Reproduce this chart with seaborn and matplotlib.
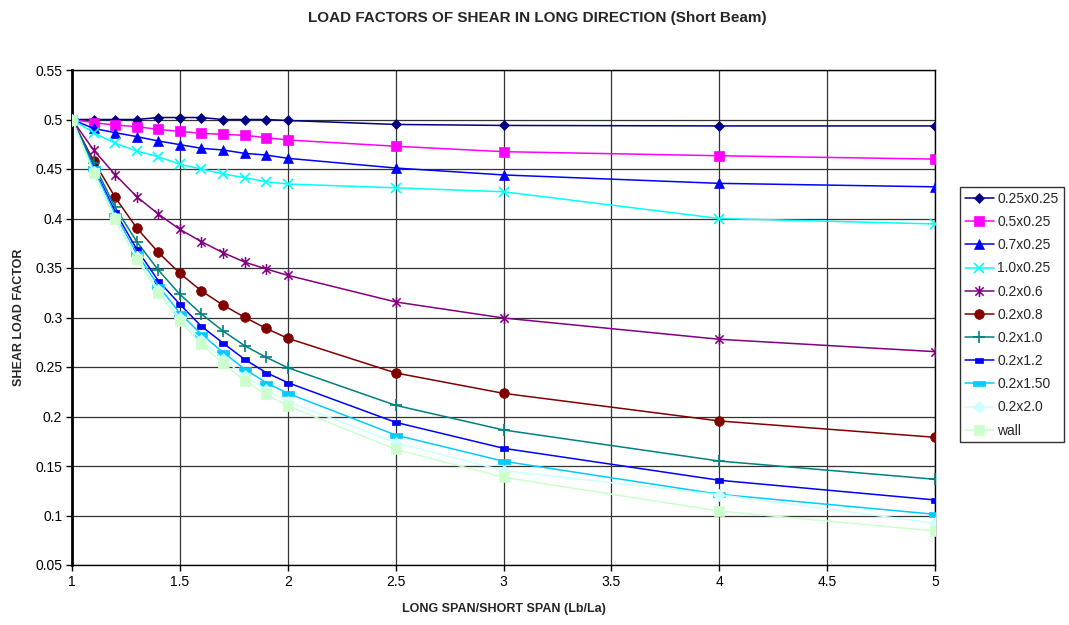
import matplotlib
matplotlib.use("Agg")
import matplotlib.pyplot as plt
from matplotlib.path import Path
import seaborn as sns
import numpy as np
import pandas as pd

x_vals = [1, 1.1, 1.2, 1.3, 1.4, 1.5, 1.6, 1.7, 1.8, 1.9, 2, 2.5, 3, 4, 5]

s_025x025 = [0.5, 0.5, 0.5, 0.5, 0.502, 0.502, 0.502, 0.5, 0.5, 0.5, 0.499, 0.495, 0.494, 0.4935, 0.4935]
s_05x025 = [0.5, 0.4968, 0.4944, 0.4928, 0.490, 0.488, 0.486, 0.485, 0.484, 0.4817, 0.4793, 0.473, 0.4675, 0.4634, 0.460]
s_07x025 = [0.5, 0.491, 0.4867, 0.4827, 0.4783, 0.4746, 0.4709, 0.4692, 0.4658, 0.4641, 0.4608, 0.451, 0.444, 0.4355, 0.432]
s_10x025 = [0.5, 0.4867, 0.476, 0.4682, 0.4624, 0.4547, 0.450, 0.445, 0.4412, 0.4372, 0.4348, 0.431, 0.427, 0.400, 0.3945]
s_02x06 = [0.5, 0.4692, 0.4443, 0.422, 0.4045, 0.389, 0.3766, 0.3655, 0.356, 0.349, 0.3426, 0.3157, 0.2995, 0.278, 0.2655]
s_02x08 = [0.5, 0.4584, 0.4214, 0.3904, 0.3658, 0.3446, 0.3268, 0.3126, 0.3002, 0.289, 0.279, 0.244, 0.2234, 0.1955, 0.179]
s_02x10 = [0.5, 0.4557, 0.4113, 0.3766, 0.348, 0.3234, 0.3035, 0.2864, 0.2715, 0.2598, 0.2493, 0.2113, 0.1864, 0.155, 0.1366]
s_02x12 = [0.5, 0.452, 0.407, 0.369, 0.3372, 0.3133, 0.2911, 0.2742, 0.2577, 0.2443, 0.2342, 0.1941, 0.1679, 0.1356, 0.1157]
s_02x150 = [0.5, 0.4507, 0.4035, 0.3648, 0.3322, 0.3042, 0.283, 0.2648, 0.248, 0.2342, 0.2234, 0.1813, 0.1548, 0.1214, 0.1012]
s_02x20 = [0.5, 0.447, 0.401, 0.361, 0.328, 0.2995, 0.277, 0.258, 0.241, 0.227, 0.215, 0.1736, 0.1453, 0.121, 0.0922]
s_wall = [0.5, 0.4457, 0.399, 0.3588, 0.3251, 0.2965, 0.2729, 0.2537, 0.2363, 0.2224, 0.2106, 0.1669, 0.1386, 0.1045, 0.0843]

labels = ["0.25x0.25", "0.5x0.25", "0.7x0.25", "1.0x0.25", "0.2x0.6", "0.2x0.8",
          "0.2x1.0", "0.2x1.2", "0.2x1.50", "0.2x2.0", "wall"]
series = [s_025x025, s_05x025, s_07x025, s_10x025, s_02x06, s_02x08,
          s_02x10, s_02x12, s_02x150, s_02x20, s_wall]

sns.set_theme(style="white")
plt.rcParams['font.family'] = ['Liberation Sans', 'DejaVu Sans']

# custom markers
star_path = Path([(0, 1), (0, -1), (-0.75, 0.75), (0.75, -0.75), (-0.75, -0.75), (0.75, 0.75)],
                 [Path.MOVETO, Path.LINETO, Path.MOVETO, Path.LINETO, Path.MOVETO, Path.LINETO])
bar_small = Path([(-1, -0.6), (1, -0.6), (1, 0.6), (-1, 0.6), (-1, -0.6)],
                 [Path.MOVETO, Path.LINETO, Path.LINETO, Path.LINETO, Path.CLOSEPOLY])
bar_wide = Path([(-1, -0.4), (1, -0.4), (1, 0.4), (-1, 0.4), (-1, -0.4)],
                [Path.MOVETO, Path.LINETO, Path.LINETO, Path.LINETO, Path.CLOSEPOLY])

styles = [
    dict(color="#000080", marker="D", ms=5),
    dict(color="#FF00FF", marker="s", ms=7),
    dict(color="#0000FF", marker="^", ms=7),
    dict(color="#00FFFF", marker="x", ms=6.5, mew=1.2),
    dict(color="#800080", marker=star_path, ms=8, mew=1.1),
    dict(color="#800000", marker="o", ms=7),
    dict(color="#008080", marker="+", ms=8, mew=1.2),
    dict(color="#0000FF", marker=bar_small, ms=6),
    dict(color="#00CCFF", marker=bar_wide, ms=9),
    dict(color="#CCFFFF", marker="D", ms=6),
    dict(color="#CCFFCC", marker="s", ms=7.5),
]

fig = plt.figure(figsize=(10.69, 6.25), dpi=100)
ax = fig.add_axes([72 / 1069, 1 - 565 / 625, (935 - 72) / 1069, (565 - 70) / 625])

for lab, ys, st in zip(labels, series, styles):
    df = pd.DataFrame({"x": x_vals, "y": ys})
    sns.lineplot(data=df, x="x", y="y", ax=ax, color=st["color"], marker=st["marker"],
                 markersize=st["ms"], markeredgewidth=st.get("mew", 0.5),
                 markeredgecolor=st["color"], markerfacecolor=st["color"],
                 linewidth=1.1, label=lab, legend=False, zorder=3)

ax.set_xlim(1, 5)
ax.set_ylim(0.05, 0.55)
ax.set_xticks(np.arange(1, 5.01, 0.5))
ax.set_yticks(np.arange(0.05, 0.5501, 0.05))
ax.set_xticklabels(["1", "1.5", "2", "2.5", "3", "3.5", "4", "4.5", "5"])
ax.set_yticklabels(["0.05", "0.1", "0.15", "0.2", "0.25", "0.3", "0.35", "0.4", "0.45", "0.5", "0.55"])
ax.grid(True, color="#333333", linewidth=0.9)
ax.set_axisbelow(True)
for side in ["top", "right", "bottom"]:
    ax.spines[side].set_color("black")
    ax.spines[side].set_linewidth(1.0)
ax.spines["left"].set_color("black")
ax.spines["left"].set_linewidth(2.0)
ax.tick_params(axis="both", direction="out", length=4, width=1, color="black",
               labelsize=10, labelcolor="black", bottom=True, left=True, pad=3)

ax.set_xlabel("LONG SPAN/SHORT SPAN (Lb/La)", fontsize=9, fontweight="bold", labelpad=10)
ax.set_ylabel("SHEAR LOAD FACTOR", fontsize=9, fontweight="bold", labelpad=7)

fig.text(537 / 1069, 1 - 18 / 625, "LOAD FACTORS OF SHEAR IN LONG DIRECTION (Short Beam)",
         ha="center", va="center", fontsize=11, fontweight="bold")

handles, labs = ax.get_legend_handles_labels()
leg = fig.legend(handles, labs, loc="upper left", bbox_to_anchor=(960 / 1069, 1 - 187 / 625),
                 borderaxespad=0, frameon=True, fancybox=False, fontsize=10,
                 labelspacing=0.66, handlelength=2.1, handletextpad=0.25, borderpad=0.35)
leg.get_frame().set_edgecolor("black")
leg.get_frame().set_linewidth(1.0)

fig.savefig("out.png", dpi=100)
